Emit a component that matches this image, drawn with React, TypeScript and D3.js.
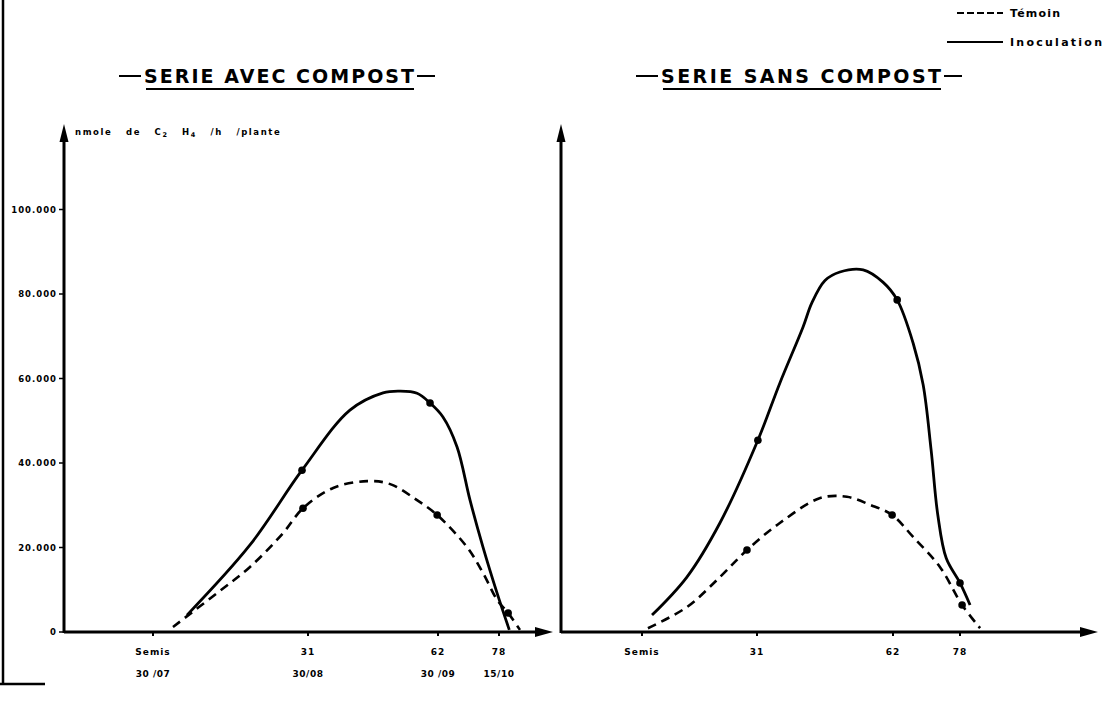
import React from "react";
import * as d3 from "d3";

// axe des x : jours apres semis
const tickDays = [0, 31, 62, 78];
const dayLabels = ["Semis", "31", "62", "78"];
const dateLabels = ["30 /07", "30/08", "30 /09", "15/10"];

// axe des y : nmole de C2H4 / h / plante
const yTickValues = [0, 20000, 40000, 60000, 80000, 100000];
const yTickLabels = ["0", "20.000", "40.000", "60.000", "80.000", "100.000"];

// serie avec compost  [jour, valeur]
const avecInoculation: [number, number][] = [
  [6.8, 4000], [19.4, 20600], [29.8, 38300], [41, 52500], [48.9, 56600],
  [52.9, 57000], [57, 56500], [60.1, 54200], [63.3, 50900], [67, 43800],
  [70.4, 31200], [73.8, 20100], [77.5, 9200], [80.7, 500],
];
const avecTemoin: [number, number][] = [
  [4, 1200], [12.8, 9200], [19.4, 15400], [26, 23400], [30, 29300], [37, 34100],
  [45.1, 35700], [50.6, 35000], [57, 31200], [61.8, 27700], [69.6, 20100],
  [73.8, 14000], [77.5, 7600], [80.4, 4500], [83.5, 500],
];
const avecPoints: [number, number][] = [
  [29.8, 38300], [60.1, 54200], [30, 29300], [61.8, 27700], [80.4, 4500],
];

// serie sans compost
const sansInoculation: [number, number][] = [
  [2.7, 4000], [12.1, 13000], [21, 25800], [31.2, 45400], [36.2, 58900],
  [41.5, 72200], [43.5, 77900], [46.5, 83200], [49.9, 85200], [55.2, 85700],
  [59.7, 82800], [63, 78600], [66.8, 68400], [69.2, 58500], [71.1, 43100],
  [72.7, 27700], [74.7, 17500], [78, 11600], [80.4, 6400],
];
const sansTemoin: [number, number][] = [
  [1.6, 900], [12.1, 5900], [21, 13000], [28.3, 19400], [36.2, 25800],
  [45.4, 31700], [51.5, 32000], [56.8, 30100], [61.8, 27700], [66.8, 22500],
  [73.2, 15400], [78.5, 6400], [82.8, 900],
];
const sansPoints: [number, number][] = [
  [31.2, 45400], [63, 78600], [78, 11600], [28.3, 19400], [61.8, 27700], [78.5, 6400],
];

const W = 1108;
const H = 701;
const FONT = "'DejaVu Sans', sans-serif";

const y = d3.scaleLinear().domain([0, 100000]).range([632, 209.5]);
const xAvec = d3.scaleLinear().domain(tickDays).range([153, 308, 438, 499]);
const xSans = d3.scaleLinear().domain(tickDays).range([642, 757, 893, 960]);

const Panel = ({ x, inoc, temoin, points, axisX, axisEnd, dates }) => {
  const line = d3
    .line<[number, number]>()
    .x((d) => x(d[0]))
    .y((d) => y(d[1]))
    .curve(d3.curveCatmullRom.alpha(0.5));
  const y0 = y(0);
  return (
    <g>
      {/* axe vertical avec fleche */}
      <line x1={axisX} x2={axisX} y1={y0 + 1} y2={138} stroke="#000" strokeWidth={3} />
      <polygon points={`${axisX - 4.5},${142} ${axisX},${124} ${axisX + 4.5},${142}`} fill="#000" />
      {/* axe horizontal avec fleche */}
      <line x1={axisX} x2={axisEnd - 12} y1={y0} y2={y0} stroke="#000" strokeWidth={3} />
      <polygon points={`${axisEnd - 18},${y0 - 5} ${axisEnd},${y0} ${axisEnd - 18},${y0 + 5}`} fill="#000" />
      {tickDays.map((d, i) => (
        <g key={i}>
          <line x1={x(d)} x2={x(d)} y1={y0} y2={y0 + 4} stroke="#000" strokeWidth={2} />
          <text x={x(d)} y={y0 + 23} textAnchor="middle" fontSize={9} fontWeight="bold" fontFamily={FONT} letterSpacing={1}>
            {dayLabels[i]}
          </text>
          {dates && (
            <text x={x(d)} y={y0 + 45} textAnchor="middle" fontSize={9} fontWeight="bold" fontFamily={FONT} letterSpacing={0.5}>
              {dateLabels[i]}
            </text>
          )}
        </g>
      ))}
      <path d={line(temoin)} fill="none" stroke="#000" strokeWidth={2.6} strokeDasharray="9 6" />
      <path d={line(inoc)} fill="none" stroke="#000" strokeWidth={2.8} />
      {points.map((p, i) => (
        <circle key={i} cx={x(p[0])} cy={y(p[1])} r={3.8} fill="#000" />
      ))}
    </g>
  );
};

const Title = ({ x1, x2, label }) => (
  <g>
    <line x1={x1 - 25} x2={x1 - 3} y1={76} y2={76} stroke="#000" strokeWidth={2} />
    <line x1={x2 + 3} x2={x2 + 21} y1={76} y2={76} stroke="#000" strokeWidth={2} />
    <text
      x={x1}
      y={83}
      fontSize={19}
      fontWeight="bold"
      fontFamily={FONT}
      textLength={x2 - x1}
      lengthAdjust="spacing"
    >
      {label}
    </text>
    <line x1={x1 + 2} x2={x2} y1={89} y2={89} stroke="#000" strokeWidth={2.2} />
  </g>
);

export default function App() {
  return (
    <svg
      width={W}
      height={H}
      style={{ position: "absolute", left: 0, top: 0, background: "#fff" }}
    >
      <rect width={W} height={H} fill="#fff" />
      {/* cadre */}
      <line x1={3} x2={3} y1={0} y2={684} stroke="#000" strokeWidth={2.5} />
      <line x1={0} x2={45} y1={684} y2={684} stroke="#000" strokeWidth={2.5} />

      {/* legende */}
      <line x1={957} x2={1003} y1={13} y2={13} stroke="#000" strokeWidth={2} strokeDasharray="7 3" />
      <text x={1010} y={17} fontSize={11} fontWeight="bold" fontFamily={FONT} textLength={50} lengthAdjust="spacing">
        Témoin
      </text>
      <line x1={947} x2={1003} y1={42} y2={42} stroke="#000" strokeWidth={2} />
      <text x={1010} y={46} fontSize={11} fontWeight="bold" fontFamily={FONT} textLength={92} lengthAdjust="spacing">
        Inoculation
      </text>

      <Title x1={144} x2={414} label="SERIE AVEC COMPOST" />
      <Title x1={661} x2={941} label="SERIE  SANS  COMPOST" />

      {/* graduations y */}
      {yTickValues.map((v, i) => (
        <g key={i}>
          <line x1={59} x2={64} y1={y(v)} y2={y(v)} stroke="#000" strokeWidth={1.5} />
          <text x={57} y={y(v) + 3} textAnchor="end" fontSize={8.5} fontWeight="bold" fontFamily={FONT} letterSpacing={1}>
            {yTickLabels[i]}
          </text>
        </g>
      ))}
      <text x={75} y={135} fontSize={8.5} fontWeight="bold" fontFamily={FONT} letterSpacing={1.6} wordSpacing={9}>
        nmole de  C
        <tspan fontSize={6.5} dy={2}>2</tspan>
        <tspan dy={-2}> H</tspan>
        <tspan fontSize={6.5} dy={2}>4</tspan>
        <tspan dy={-2}> /h /plante</tspan>
      </text>

      <Panel x={xAvec} inoc={avecInoculation} temoin={avecTemoin} points={avecPoints} axisX={64} axisEnd={553} dates={true} />
      <Panel x={xSans} inoc={sansInoculation} temoin={sansTemoin} points={sansPoints} axisX={561} axisEnd={1098} dates={false} />
    </svg>
  );
}
